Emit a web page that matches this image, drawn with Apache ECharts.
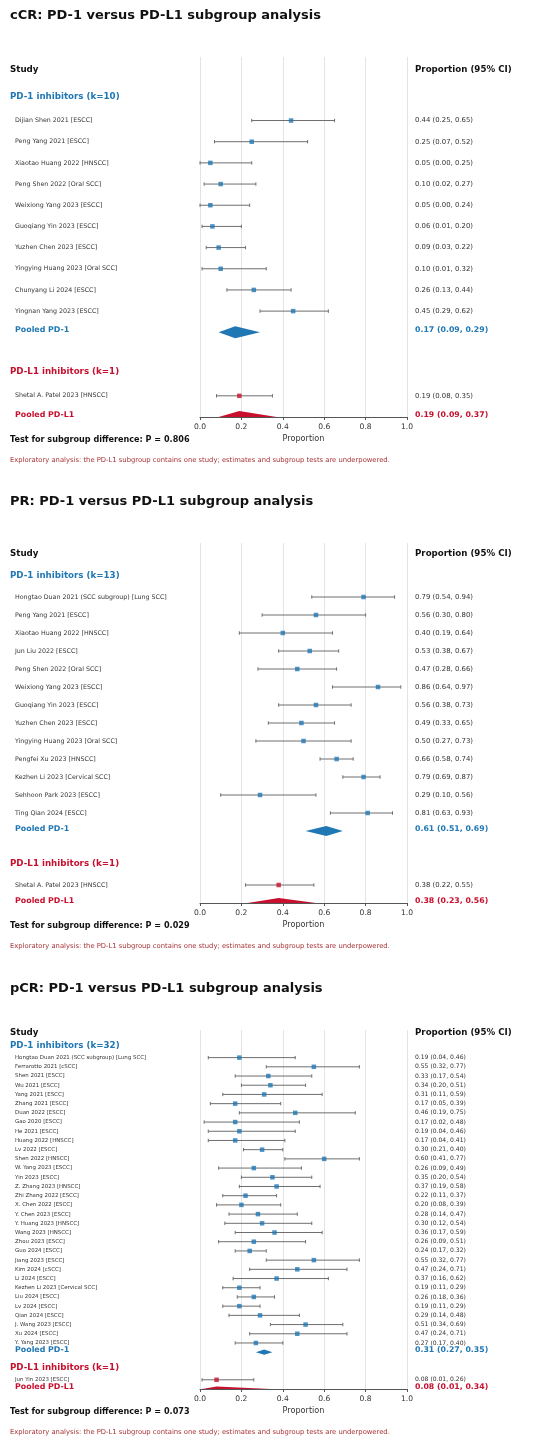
<!DOCTYPE html>
<html><head><meta charset="utf-8">
<script src="https://cdn.jsdelivr.net/npm/echarts@6/dist/echarts.min.js"></script>
<style>html,body{margin:0;padding:0;background:#fff}#c{width:550px;height:1446px}</style>
</head><body><div id="c"></div>
<script>
// ---------- cCR ----------
const cCR_pd1_studies = ['Dijian Shen 2021 [ESCC]','Peng Yang 2021 [ESCC]','Xiaotao Huang 2022 [HNSCC]','Peng Shen 2022 [Oral SCC]','Weixiong Yang 2023 [ESCC]','Guoqiang Yin 2023 [ESCC]','Yuzhen Chen 2023 [ESCC]','Yingying Huang 2023 [Oral SCC]','Chunyang Li 2024 [ESCC]','Yingnan Yang 2023 [ESCC]'];
const cCR_pd1_est = [0.44,0.25,0.05,0.10,0.05,0.06,0.09,0.10,0.26,0.45];
const cCR_pd1_lo  = [0.25,0.07,0.00,0.02,0.00,0.01,0.03,0.01,0.13,0.29];
const cCR_pd1_hi  = [0.65,0.52,0.25,0.27,0.24,0.20,0.22,0.32,0.44,0.62];
const cCR_pd1_pooled = [0.17,0.09,0.29];
const cCR_pdl1_studies = ['Shetal A. Patel 2023 [HNSCC]'];
const cCR_pdl1_est = [0.19];
const cCR_pdl1_lo  = [0.08];
const cCR_pdl1_hi  = [0.35];
const cCR_pdl1_pooled = [0.19,0.09,0.37];
const cCR_p = '0.806';

// ---------- PR ----------
const PR_pd1_studies = ['Hongtao Duan 2021 (SCC subgroup) [Lung SCC]','Peng Yang 2021 [ESCC]','Xiaotao Huang 2022 [HNSCC]','Jun Liu 2022 [ESCC]','Peng Shen 2022 [Oral SCC]','Weixiong Yang 2023 [ESCC]','Guoqiang Yin 2023 [ESCC]','Yuzhen Chen 2023 [ESCC]','Yingying Huang 2023 [Oral SCC]','Pengfei Xu 2023 [HNSCC]','Kezhen Li 2023 [Cervical SCC]','Sehhoon Park 2023 [ESCC]','Ting Qian 2024 [ESCC]'];
const PR_pd1_est = [0.79,0.56,0.40,0.53,0.47,0.86,0.56,0.49,0.50,0.66,0.79,0.29,0.81];
const PR_pd1_lo  = [0.54,0.30,0.19,0.38,0.28,0.64,0.38,0.33,0.27,0.58,0.69,0.10,0.63];
const PR_pd1_hi  = [0.94,0.80,0.64,0.67,0.66,0.97,0.73,0.65,0.73,0.74,0.87,0.56,0.93];
const PR_pd1_pooled = [0.61,0.51,0.69];
const PR_pdl1_studies = ['Shetal A. Patel 2023 [HNSCC]'];
const PR_pdl1_est = [0.38];
const PR_pdl1_lo  = [0.22];
const PR_pdl1_hi  = [0.55];
const PR_pdl1_pooled = [0.38,0.23,0.56];
const PR_p = '0.029';

// ---------- pCR ----------
const pCR_pd1_studies = ['Hongtao Duan 2021 (SCC subgroup) [Lung SCC]','Ferrarotto 2021 [cSCC]','Shen 2021 [ESCC]','Wu 2021 [ESCC]','Yang 2021 [ESCC]','Zhang 2021 [ESCC]','Duan 2022 [ESCC]','Gao 2020 [ESCC]','He 2021 [ESCC]','Huang 2022 [HNSCC]','Lv 2022 [ESCC]','Shen 2022 [HNSCC]','W. Yang 2023 [ESCC]','Yin 2023 [ESCC]','Z. Zhang 2023 [HNSCC]','Zhi Zhang 2022 [ESCC]','X. Chen 2022 [ESCC]','Y. Chen 2023 [ESCC]','Y. Huang 2023 [HNSCC]','Wang 2023 [HNSCC]','Zhou 2023 [ESCC]','Guo 2024 [ESCC]','Jiang 2023 [ESCC]','Kim 2024 [cSCC]','Li 2024 [ESCC]','Kezhen Li 2023 [Cervical SCC]','Liu 2024 [ESCC]','Lv 2024 [ESCC]','Qian 2024 [ESCC]','J. Wang 2023 [ESCC]','Xu 2024 [ESCC]','Y. Yang 2023 [ESCC]'];
const pCR_pd1_est = [0.19,0.55,0.33,0.34,0.31,0.17,0.46,0.17,0.19,0.17,0.30,0.60,0.26,0.35,0.37,0.22,0.20,0.28,0.30,0.36,0.26,0.24,0.55,0.47,0.37,0.19,0.26,0.19,0.29,0.51,0.47,0.27];
const pCR_pd1_lo  = [0.04,0.32,0.17,0.20,0.11,0.05,0.19,0.02,0.04,0.04,0.21,0.41,0.09,0.20,0.19,0.11,0.08,0.14,0.12,0.17,0.09,0.17,0.32,0.24,0.16,0.11,0.18,0.11,0.14,0.34,0.24,0.17];
const pCR_pd1_hi  = [0.46,0.77,0.54,0.51,0.59,0.39,0.75,0.48,0.46,0.41,0.40,0.77,0.49,0.54,0.58,0.37,0.39,0.47,0.54,0.59,0.51,0.32,0.77,0.71,0.62,0.29,0.36,0.29,0.48,0.69,0.71,0.40];
const pCR_pd1_pooled = [0.31,0.27,0.35];
const pCR_pdl1_studies = ['Jun Yin 2023 [ESCC]'];
const pCR_pdl1_est = [0.08];
const pCR_pdl1_lo  = [0.01];
const pCR_pdl1_hi  = [0.26];
const pCR_pdl1_pooled = [0.08,0.01,0.34];
const pCR_p = '0.073';

const xTickLabels = ['0.0','0.2','0.4','0.6','0.8','1.0'];

// ---------- layout ----------
const BLUE = '#1f77b4', RED = '#c8102e', GRAY = '#6e6e6e', TXT = '#333333';
const FONT = "'DejaVu Sans', 'Noto Sans', sans-serif";
const panels = [
  {title:'cCR: PD-1 versus PD-L1 subgroup analysis', top:57, bottom:417, nameFs:6.3, ciFs:6.9, studyRow:-1.4,
   pd1:[cCR_pd1_studies,cCR_pd1_est,cCR_pd1_lo,cCR_pd1_hi,cCR_pd1_pooled],
   pdl1:[cCR_pdl1_studies,cCR_pdl1_est,cCR_pdl1_lo,cCR_pdl1_hi,cCR_pdl1_pooled], p:cCR_p},
  {title:'PR: PD-1 versus PD-L1 subgroup analysis', top:543, bottom:903, nameFs:6.3, ciFs:6.9, studyRow:-1.4,
   pd1:[PR_pd1_studies,PR_pd1_est,PR_pd1_lo,PR_pd1_hi,PR_pd1_pooled],
   pdl1:[PR_pdl1_studies,PR_pdl1_est,PR_pdl1_lo,PR_pdl1_hi,PR_pdl1_pooled], p:PR_p},
  {title:'pCR: PD-1 versus PD-L1 subgroup analysis', top:1030, bottom:1389, nameFs:5.45, ciFs:6.05, studyRow:-1.65,
   pd1:[pCR_pd1_studies,pCR_pd1_est,pCR_pd1_lo,pCR_pd1_hi,pCR_pd1_pooled],
   pdl1:[pCR_pdl1_studies,pCR_pdl1_est,pCR_pdl1_lo,pCR_pdl1_hi,pCR_pdl1_pooled], p:pCR_p}
];

const fmt = (e,l,h) => e.toFixed(2)+' ('+l.toFixed(2)+', '+h.toFixed(2)+')';

const grid=[], xAxis=[], yAxis=[], series=[], graphic=[];

panels.forEach((P, gi) => {
  const n = P.pd1[0].length, m = P.pdl1[0].length;
  const maxRow = n + m + 4;
  grid.push({left:200, width:207, top:P.top, height:P.bottom-P.top});
  xAxis.push({gridIndex:gi, type:'value', min:0, max:1, interval:0.2,
    splitLine:{show:true, lineStyle:{color:'#e4e4e4', width:1}},
    axisLine:{show:true, onZero:false, lineStyle:{color:'#555', width:1}},
    axisTick:{show:true, length:3, lineStyle:{color:'#555'}},
    axisLabel:{margin:6, fontSize:7.6, color:TXT, fontFamily:FONT, formatter:v => xTickLabels[Math.round(v/0.2)]},
    name:'Proportion', nameLocation:'middle', nameGap:17.5,
    nameTextStyle:{fontSize:8.1, color:TXT, fontFamily:FONT}});
  yAxis.push({gridIndex:gi, type:'value', inverse:true, min:-2, max:maxRow, show:false});

  const bars = [], ptsB = [], ptsR = [], dia = [], texts = [];
  texts.push({row:P.studyRow, dy:0, left:'Study', right:'Proportion (95% CI)', lx:10, lfont:'bold 8.7px '+FONT, rfont:'bold 8.7px '+FONT, color:'#111'});
  texts.push({row:0, dy:-3, left:'PD-1 inhibitors (k='+n+')', right:'', lx:10, lfont:'bold 8.7px '+FONT, color:BLUE});
  for (let i=0;i<n;i++){
    const r = i+1;
    bars.push([P.pd1[2][i], P.pd1[3][i], r]);
    ptsB.push([P.pd1[1][i], r]);
    texts.push({row:r, dy:0, left:P.pd1[0][i], right:fmt(P.pd1[1][i],P.pd1[2][i],P.pd1[3][i]), lx:15,
      lfont:P.nameFs+'px '+FONT, rfont:P.ciFs+'px '+FONT, color:TXT});
  }
  const pr1 = n+1;
  dia.push([P.pd1[4][0], P.pd1[4][1], P.pd1[4][2], pr1, 0]);
  texts.push({row:pr1, dy:-2, left:'Pooled PD-1', right:fmt(P.pd1[4][0],P.pd1[4][1],P.pd1[4][2]), lx:15,
    lfont:'bold 7.9px '+FONT, rfont:'bold 7.8px '+FONT, color:BLUE});
  const hr2 = n+3;
  texts.push({row:hr2, dy:-3, left:'PD-L1 inhibitors (k='+m+')', right:'', lx:10, lfont:'bold 8.7px '+FONT, color:RED});
  for (let j=0;j<m;j++){
    const r = hr2+1+j;
    bars.push([P.pdl1[2][j], P.pdl1[3][j], r]);
    ptsR.push([P.pdl1[1][j], r]);
    texts.push({row:r, dy:0, left:P.pdl1[0][j], right:fmt(P.pdl1[1][j],P.pdl1[2][j],P.pdl1[3][j]), lx:15,
      lfont:P.nameFs+'px '+FONT, rfont:P.ciFs+'px '+FONT, color:TXT});
  }
  const pr2 = hr2+1+m;
  dia.push([P.pdl1[4][0], P.pdl1[4][1], P.pdl1[4][2], pr2, 1]);
  texts.push({row:pr2, dy:-2, left:'Pooled PD-L1', right:fmt(P.pdl1[4][0],P.pdl1[4][1],P.pdl1[4][2]), lx:15,
    lfont:'bold 7.9px '+FONT, rfont:'bold 7.8px '+FONT, color:RED});

  series.push({type:'custom', xAxisIndex:gi, yAxisIndex:gi, silent:true, data:bars, encode:{x:[0,1], y:2}, z:3,
    renderItem:(params, api) => {
      const r = api.value(2);
      const a = api.coord([api.value(0), r]), b = api.coord([api.value(1), r]);
      const c = 1.7, st = {stroke:GRAY, lineWidth:1};
      return {type:'group', children:[
        {type:'line', shape:{x1:a[0],y1:a[1],x2:b[0],y2:b[1]}, style:st},
        {type:'line', shape:{x1:a[0],y1:a[1]-c,x2:a[0],y2:a[1]+c}, style:st},
        {type:'line', shape:{x1:b[0],y1:b[1]-c,x2:b[0],y2:b[1]+c}, style:st}
      ]};
    }});
  series.push({type:'custom', xAxisIndex:gi, yAxisIndex:gi, silent:true, data:dia, encode:{x:[0,1,2], y:3}, z:4,
    renderItem:(params, api) => {
      const e=api.value(0), l=api.value(1), h=api.value(2), r=api.value(3), g=api.value(4);
      const hh = 0.28;
      const ybot = params.coordSys.y + params.coordSys.height;
      const pts = [api.coord([l,r]), api.coord([e,r-hh]), api.coord([h,r]), api.coord([e,r+hh])]
        .map(p => [p[0], Math.min(p[1], ybot)]);
      return {type:'polygon', shape:{points:pts}, style:{fill: g ? RED : BLUE}};
    }});
  series.push({type:'scatter', xAxisIndex:gi, yAxisIndex:gi, silent:true, data:ptsB, symbol:'rect', symbolSize:4.5,
    itemStyle:{color:BLUE}, z:5});
  series.push({type:'scatter', xAxisIndex:gi, yAxisIndex:gi, silent:true, data:ptsR, symbol:'rect', symbolSize:4.5,
    itemStyle:{color:RED}, z:5});
  series.push({type:'custom', xAxisIndex:gi, yAxisIndex:gi, silent:true, data:texts.map(t => [0, t.row]), encode:{x:0, y:1}, z:6,
    renderItem:(params, api) => {
      const t = texts[params.dataIndex];
      const y = api.coord([0, api.value(1)])[1] + t.dy;
      const ch = [{type:'text', x:t.lx, y:y, style:{text:t.left, fill:t.color, font:t.lfont,
        textAlign:'left', textVerticalAlign:'middle', align:'left', verticalAlign:'middle'}}];
      if (t.right) ch.push({type:'text', x:415, y:y, style:{text:t.right, fill:t.color, font:t.rfont,
        textAlign:'left', textVerticalAlign:'middle', align:'left', verticalAlign:'middle'}});
      return {type:'group', children:ch};
    }});

  graphic.push({type:'text', left:10, top:P.top-41-7, silent:true,
    style:{text:P.title, fill:'#111', font:'bold 13px '+FONT}});
  graphic.push({type:'text', left:10, top:P.bottom+24-5.5, silent:true,
    style:{text:'Test for subgroup difference: P = '+P.p, fill:'#111', font:'bold 8.1px '+FONT}});
  graphic.push({type:'text', left:10, top:P.bottom+44-4.5, silent:true,
    style:{text:'Exploratory analysis: the PD-L1 subgroup contains one study; estimates and subgroup tests are underpowered.', fill:'#a83236', font:'6.8px '+FONT}});
});

const chart = echarts.init(document.getElementById('c'), null, {renderer:'canvas'});
chart.setOption({animation:false, backgroundColor:'#fff', grid, xAxis, yAxis, series, graphic});
</script></body></html>
